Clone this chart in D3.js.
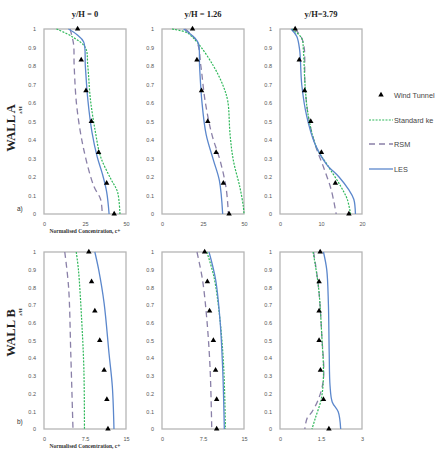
<!doctype html>
<html>
<head>
<meta charset="utf-8">
<style>
  body { margin: 0; background: #fff; }
  svg { display: block; }
</style>
</head>
<body>
<script src="https://d3js.org/d3.v7.min.js"></script>
<div id="viz"></div>
<script>
  // wind tunnel heights (z/H)
  var zWT = [1, 0.833, 0.667, 0.5, 0.333, 0.167, 0];

  // WALL A, y/H = 0
  var wtA1  = [20.5, 22.7, 25.6, 28.9, 33.3, 38.2, 42.8];
  var lesA1 = [[14.9,1],[20,0.97],[24.2,0.93],[25.2,0.8],[26.7,0.62],[29.3,0.44],[32.4,0.31],[35.5,0.22],[38.2,0.12],[39.7,0]];
  var keA1  = [[7.6,1],[16.9,0.96],[25.2,0.9],[26.7,0.8],[28.3,0.62],[31.4,0.44],[34.5,0.31],[40.7,0.19],[44.8,0.12],[46.3,0]];
  var rsmA1 = [[15.9,1],[18,0.92],[18.4,0.8],[20,0.58],[24.2,0.35],[30.4,0.15],[34.5,0.08],[35.5,0]];

  // WALL A, y/H = 1.26
  var wtA2  = [18.6, 21.3, 24.1, 27.9, 33.0, 37.4, 40.9];
  var lesA2 = [[13.2,1],[20.2,0.95],[22.3,0.92],[22.9,0.8],[24.3,0.61],[26.9,0.43],[31.4,0.29],[35.0,0.18],[37.0,0]];
  var keA2  = [[6.1,1],[15.2,0.98],[21.3,0.93],[31.4,0.8],[37.4,0.69],[40.1,0.61],[41.5,0.43],[43.5,0.29],[47.6,0.14],[49.6,0.04],[50,0]];
  var rsmA2 = [[14.2,1],[21.3,0.93],[23.7,0.8],[26.3,0.61],[30.4,0.43],[35.4,0.29],[39.1,0.14],[40.5,0]];

  // WALL A, y/H = 3.79
  var wtA3  = [3.7, 4.7, 6.0, 7.5, 10.1, 13.5, 16.8];
  var lesA3 = [[2.7,1],[4.1,0.96],[4.8,0.885],[5.3,0.7],[6.5,0.53],[8.5,0.38],[11.3,0.27],[14.4,0.2],[16.8,0.13],[18.0,0.08],[18.4,0]];
  var keA3  = [[2.9,1],[5.3,0.95],[5.7,0.885],[6.1,0.7],[6.9,0.53],[8.9,0.36],[11.7,0.26],[14.8,0.15],[16.4,0.08],[17.2,0]];
  var rsmA3 = [[3.7,1],[5.3,0.95],[5.9,0.9],[6.1,0.7],[6.9,0.53],[8.5,0.38],[10.5,0.26],[12.5,0.13],[13.7,0]];

  // WALL B, y/H = 0
  var wtB1  = [8.2, 8.7, 9.3, 10.2, 11.0, 11.5, 11.7];
  var lesB1 = [[9.3,1],[10.0,0.9],[11.0,0.71],[11.9,0.425],[12.5,0.24],[12.8,0]];
  var keB1  = [[5.9,1],[6.3,0.9],[6.9,0.61],[7.3,0.33],[7.4,0]];
  var rsmB1 = [[3.8,1],[4.5,0.8],[4.9,0.425],[5.3,0]];

  // WALL B, y/H = 1.26
  var wtB2  = [7.8, 8.3, 8.7, 9.4, 9.8, 10.0, 10.0];
  var lesB2 = [[8.6,1],[9.8,0.845],[10.6,0.62],[11.1,0.34],[11.4,0]];
  var keB2  = [[8.2,1],[9.5,0.86],[10.6,0.62],[11.3,0.34],[11.6,0]];
  var rsmB2 = [[6.4,1],[7.4,0.845],[8.2,0.62],[8.8,0.34],[9.1,0]];

  // WALL B, y/H = 3.79
  var wtB3  = [1.47, 1.43, 1.43, 1.43, 1.48, 1.59, 1.79];
  var lesB3 = [[1.59,1],[1.71,0.9],[1.77,0.71],[1.80,0.43],[1.83,0.246],[1.91,0.153],[2.13,0.097],[2.22,0]];
  var keB3  = [[1.21,1],[1.41,0.8],[1.53,0.525],[1.59,0.3],[1.51,0.17],[1.29,0.06],[1.17,0]];
  var rsmB3 = [[1.23,1],[1.41,0.8],[1.53,0.525],[1.59,0.283],[1.41,0.17],[1.17,0.097],[0.99,0.06],[0.91,0]];

  var titles = ["y/H = 0", "y/H = 1.26", "y/H=3.79"];
  var xTicksA = [[0,25,50],[0,25,50],[0,10,20]];
  var xTicksB = [[0,7.5,15],[0,7.5,15],[0,1.5,3]];
  var yTicks = [0,0.1,0.2,0.3,0.4,0.5,0.6,0.7,0.8,0.9,1];
  var legendNames = ["Wind Tunnel", "Standard ke", "RSM", "LES"];

  var colLES = "#5b87cc", colKE = "#2fb85a", colRSM = "#8a80a8";

  var svg = d3.select("#viz").append("svg")
    .attr("width", 447).attr("height", 451);

  var colLeft = [44, 162, 280], pw = 82;
  var rows = [
    {top: 29, bottom: 214, ticks: xTicksA,
     data: [[wtA1, lesA1, keA1, rsmA1], [wtA2, lesA2, keA2, rsmA2], [wtA3, lesA3, keA3, rsmA3]]},
    {top: 252, bottom: 429, ticks: xTicksB,
     data: [[wtB1, lesB1, keB1, rsmB1], [wtB2, lesB2, keB2, rsmB2], [wtB3, lesB3, keB3, rsmB3]]}
  ];

  rows.forEach(function(row, r) {
    row.data.forEach(function(set, c) {
      var tk = row.ticks[c];
      var x = d3.scaleLinear().domain([tk[0], tk[2]]).range([colLeft[c], colLeft[c] + pw]);
      var y = d3.scaleLinear().domain([0, 1]).range([row.bottom, row.top]);
      var g = svg.append("g");

      g.append("rect")
        .attr("x", colLeft[c]).attr("y", row.top)
        .attr("width", pw).attr("height", row.bottom - row.top)
        .attr("fill", "none").attr("stroke", "#b5b5b5").attr("stroke-width", 1.3);

      // y axis labels
      var ya = g.append("g")
        .attr("transform", "translate(" + (colLeft[c] - 4) + ",0)")
        .call(d3.axisLeft(y).tickValues(yTicks).tickSize(0).tickPadding(4)
          .tickFormat(function(d) { return d === 0 || d === 1 ? d : d3.format(".1f")(d); }));
      ya.select(".domain").remove();
      ya.selectAll("text").attr("font-family", "Liberation Sans, sans-serif")
        .attr("font-size", 5.5).attr("fill", "#555");

      // x axis labels
      var xa = g.append("g")
        .attr("transform", "translate(0," + (row.bottom + 6) + ")")
        .call(d3.axisBottom(x).tickValues(tk).tickSize(0).tickPadding(2).tickFormat(d3.format("")));
      xa.select(".domain").remove();
      xa.selectAll("text").attr("font-family", "Liberation Sans, sans-serif")
        .attr("font-size", 5.5).attr("fill", "#555");

      var line = d3.line()
        .x(function(d) { return x(d[0]); })
        .y(function(d) { return y(d[1]); })
        .curve(d3.curveCatmullRom.alpha(0.5));

      g.append("path").datum(set[3]).attr("d", line)
        .attr("fill", "none").attr("stroke", colRSM).attr("stroke-width", 1.3)
        .attr("stroke-dasharray", "6,4");
      g.append("path").datum(set[2]).attr("d", line)
        .attr("fill", "none").attr("stroke", colKE).attr("stroke-width", 1.2)
        .attr("stroke-dasharray", "2,1.3");
      g.append("path").datum(set[1]).attr("d", line)
        .attr("fill", "none").attr("stroke", colLES).attr("stroke-width", 1.3);

      g.selectAll(".wt").data(set[0]).enter().append("path")
        .attr("d", d3.symbol().type(d3.symbolTriangle).size(13))
        .attr("transform", function(d, i) { return "translate(" + x(d) + "," + y(zWT[i]) + ")"; })
        .attr("fill", "#000");

      if (r === 0) {
        svg.append("text")
          .attr("x", colLeft[c] + pw / 2).attr("y", 17)
          .attr("text-anchor", "middle")
          .attr("font-family", "Liberation Serif, serif").attr("font-weight", "bold")
          .attr("font-size", 8.5).attr("fill", "#222")
          .text(titles[c]);
      }
      if (c === 0) {
        svg.append("text")
          .attr("x", colLeft[c] + pw / 2).attr("y", row.bottom + 19)
          .attr("text-anchor", "middle")
          .attr("font-family", "Liberation Serif, serif").attr("font-weight", "bold")
          .attr("font-size", 5.5).attr("fill", "#333")
          .text("Normalised Concentration, c+");
      }
    });
  });

  // row labels
  [["WALL A", 128, 110, "a)", 211], ["WALL B", 333, 312, "b)", 424]].forEach(function(w) {
    svg.append("text")
      .attr("transform", "translate(15," + w[1] + ") rotate(-90)")
      .attr("text-anchor", "middle")
      .attr("font-family", "Liberation Serif, serif").attr("font-weight", "bold")
      .attr("font-size", 12.5).attr("fill", "#222")
      .text(w[0]);
    svg.append("text")
      .attr("transform", "translate(22," + w[2] + ") rotate(-90)")
      .attr("text-anchor", "middle")
      .attr("font-family", "Liberation Serif, serif").attr("font-weight", "bold")
      .attr("font-size", 5).attr("fill", "#333")
      .text("z/H");
    svg.append("text")
      .attr("x", 17).attr("y", w[4])
      .attr("font-family", "Liberation Sans, sans-serif")
      .attr("font-size", 6.5).attr("fill", "#333")
      .text(w[3]);
  });

  // legend
  var lg = svg.append("g");
  var lgY = [95, 120, 144, 169];
  lg.append("path")
    .attr("d", d3.symbol().type(d3.symbolTriangle).size(13))
    .attr("transform", "translate(381," + lgY[0] + ")").attr("fill", "#000");
  lg.append("line").attr("x1", 369).attr("x2", 393).attr("y1", lgY[1]).attr("y2", lgY[1])
    .attr("stroke", colKE).attr("stroke-width", 1.2).attr("stroke-dasharray", "2,1.3");
  lg.append("line").attr("x1", 369).attr("x2", 393).attr("y1", lgY[2]).attr("y2", lgY[2])
    .attr("stroke", colRSM).attr("stroke-width", 1.3).attr("stroke-dasharray", "6,4");
  lg.append("line").attr("x1", 369).attr("x2", 393).attr("y1", lgY[3]).attr("y2", lgY[3])
    .attr("stroke", colLES).attr("stroke-width", 1.3);
  lg.selectAll("text").data(legendNames).enter().append("text")
    .attr("x", 394)
    .attr("y", function(d, i) { return lgY[i] + 2.5; })
    .attr("font-family", "Liberation Sans, sans-serif")
    .attr("font-size", 7.3).attr("fill", "#444")
    .text(function(d) { return d; });
</script>
</body>
</html>
